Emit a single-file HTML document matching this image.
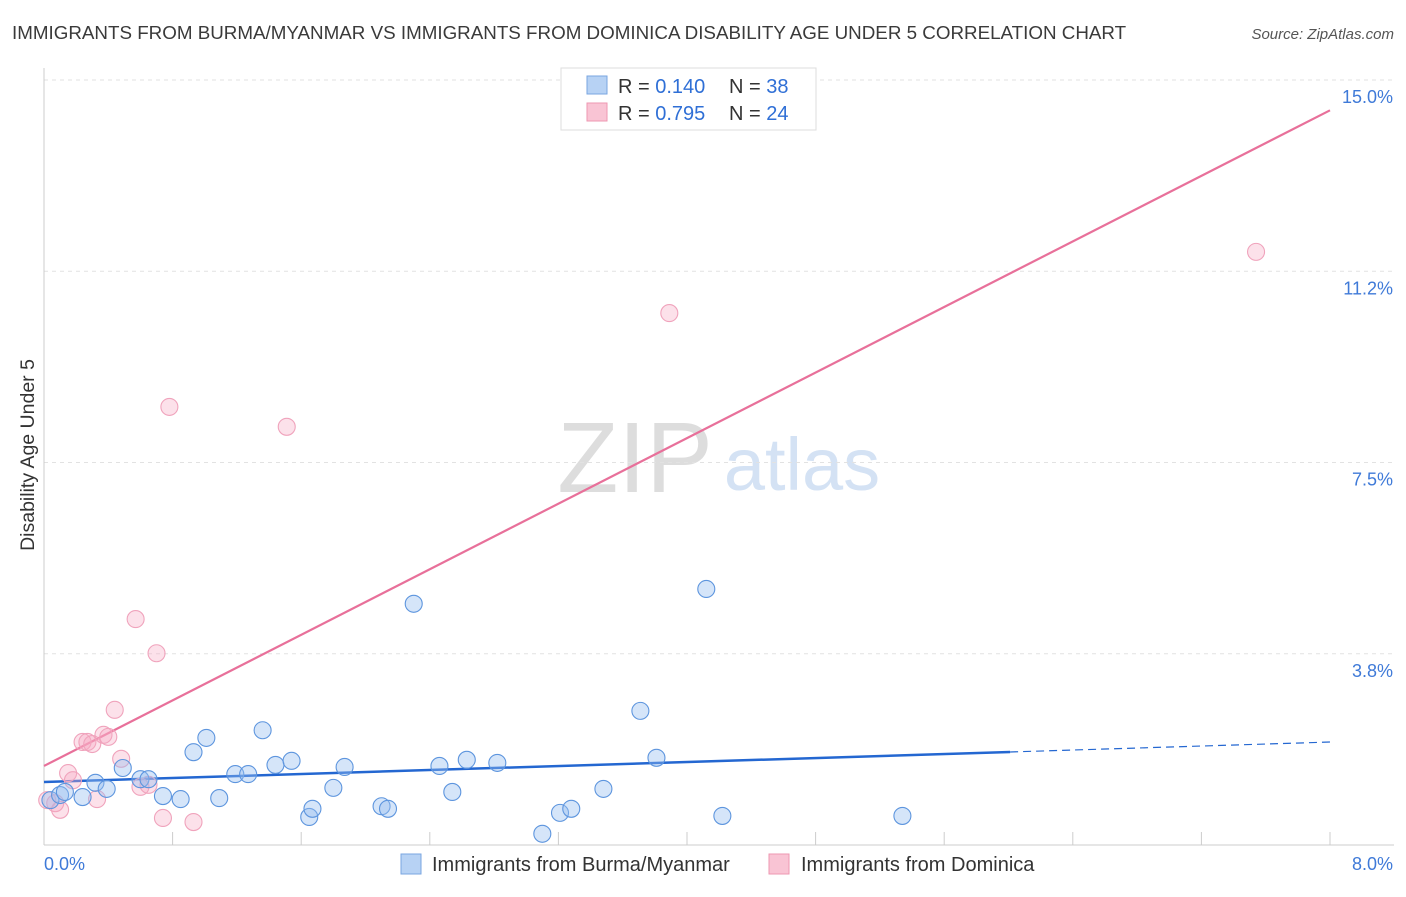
<!DOCTYPE html>
<html><head><meta charset="utf-8"><style>
body{margin:0;background:#fff;font-family:"Liberation Sans",sans-serif;}
svg text{font-family:"Liberation Sans",sans-serif;}
</style></head><body>
<svg id="chart" width="1406" height="892" xmlns="http://www.w3.org/2000/svg">
<text x="12" y="39" font-size="18.8" fill="#3a3a3a">IMMIGRANTS FROM BURMA/MYANMAR VS IMMIGRANTS FROM DOMINICA DISABILITY AGE UNDER 5 CORRELATION CHART</text>
<text x="1394" y="39" font-size="15" fill="#555" font-style="italic" text-anchor="end">Source: ZipAtlas.com</text>
<text transform="translate(34,455) rotate(-90)" font-size="19.5" fill="#333" text-anchor="middle">Disability Age Under 5</text>
<g>
<text x="635" y="492" font-size="100" fill="#ddd" font-family="Liberation Serif" text-anchor="middle">ZIP</text>
<text x="802" y="490" font-size="74" fill="#d4e2f4" text-anchor="middle">atlas</text>
</g>
<g id="grid"></g><g id="axes"></g><g id="lines"></g><g id="pts"></g>
<g>
<rect x="561" y="68" width="255" height="62" fill="#fff" stroke="#ddd"/>
<rect x="587" y="76" width="20" height="18" fill="#b7d2f4" stroke="#7aa6e0"/>
<rect x="587" y="103" width="20" height="18" fill="#f9c4d4" stroke="#ee97b2"/>
<text x="618" y="93" font-size="20" fill="#333">R = <tspan fill="#2f6fd6">0.140</tspan></text>
<text x="729" y="93" font-size="20" fill="#333">N = <tspan fill="#2f6fd6">38</tspan></text>
<text x="618" y="120" font-size="20" fill="#333">R = <tspan fill="#2f6fd6">0.795</tspan></text>
<text x="729" y="120" font-size="20" fill="#333">N = <tspan fill="#2f6fd6">24</tspan></text>
</g>
<g>
<rect x="401" y="854" width="20" height="20" fill="#b7d2f4" stroke="#7aa6e0"/>
<text x="432" y="871" font-size="20" fill="#333">Immigrants from Burma/Myanmar</text>
<rect x="769" y="854" width="20" height="20" fill="#f9c4d4" stroke="#ee97b2"/>
<text x="801" y="871" font-size="20" fill="#333">Immigrants from Dominica</text>
</g>
</svg>
<script>
const blueX=[0.04,0.10,0.13,0.24,0.32,0.39,0.49,0.60,0.65,0.74,0.85,0.93,1.01,1.09,1.19,1.27,1.36,1.44,1.54,1.65,1.67,1.80,1.87,2.10,2.14,2.30,2.46,2.54,2.63,2.82,3.10,3.21,3.28,3.48,3.71,3.81,4.12,4.22,5.34];
const blueY=[0.88,0.98,1.04,0.94,1.22,1.10,1.51,1.29,1.29,0.96,0.90,1.82,2.10,0.92,1.39,1.39,2.25,1.57,1.65,0.55,0.71,1.12,1.53,0.76,0.71,4.73,1.55,1.04,1.67,1.61,0.22,0.63,0.71,1.10,2.63,1.71,5.02,0.57,0.57];
const pinkX=[0.02,0.07,0.10,0.15,0.18,0.24,0.27,0.30,0.33,0.37,0.40,0.44,0.48,0.57,0.60,0.65,0.70,0.74,0.78,0.93,1.51,3.89,7.54];
const pinkY=[0.88,0.82,0.69,1.41,1.27,2.02,2.02,1.98,0.90,2.16,2.12,2.65,1.69,4.43,1.14,1.18,3.76,0.53,8.59,0.45,8.20,10.43,11.63];
const yTicks=[3.75,7.5,11.25,15];
const yTickLabels=["3.8%","7.5%","11.2%","15.0%"];
const blueFit=[1.235,0.098];
const pinkFit=[1.55,1.607];
const NS="http://www.w3.org/2000/svg";
const X=v=>44+v*160.75, Y=v=>845-v*51.0;
function mk(tag,attrs,parent){const e=document.createElementNS(NS,tag);for(const k in attrs)e.setAttribute(k,attrs[k]);document.getElementById(parent).appendChild(e);return e;}
yTicks.forEach((t,i)=>{
 const l=mk('line',{x1:44,x2:1394,y1:Y(t),y2:Y(t),stroke:'#e2e2e2','stroke-dasharray':'4,4'},'grid');
 
 
 const tx=mk('text',{x:1393,y:Y(t)+23,'font-size':18,fill:'#3f7ad8','text-anchor':'end'},'grid');
 tx.textContent=yTickLabels[i];
 
 
});
const ax=mk('line',{x1:44,x2:44,y1:68,y2:845,stroke:'#ccc'},'axes');


const bx=mk('line',{x1:44,x2:1394,y1:845,y2:845,stroke:'#ccc'},'axes');


for(let i=1;i<=10;i++){const t=mk('line',{x1:X(i*0.8),x2:X(i*0.8),y1:832,y2:845,stroke:'#ccc'},'axes');
 
 }
const x0=mk('text',{x:44,y:870,'font-size':18,fill:'#3f7ad8'},'axes');x0.textContent='0.0%';


const x1=mk('text',{x:1393,y:870,'font-size':18,fill:'#3f7ad8','text-anchor':'end'},'axes');x1.textContent='8.0%';


function pts(xs,ys,fill,stroke,name){xs.forEach((x,i)=>{const c=mk('circle',{cx:X(x),cy:Y(ys[i]),r:8.5,fill:fill,stroke:stroke,'stroke-width':1.1},'pts');
 
 });}
pts(pinkX,pinkY,'rgba(246,170,195,0.35)','#f0a3bc','dominica-point');
pts(blueX,blueY,'rgba(150,190,240,0.4)','#5d95de','burma-point');
const bl=mk('line',{x1:X(0),y1:Y(blueFit[0]),x2:X(6.01),y2:Y(blueFit[0]+blueFit[1]*6.01),stroke:'#2467d1','stroke-width':2.5},'lines');


const bd=mk('line',{x1:X(6.01),y1:Y(blueFit[0]+blueFit[1]*6.01),x2:X(8),y2:Y(blueFit[0]+blueFit[1]*8),stroke:'#2467d1','stroke-width':1.2,'stroke-dasharray':'8,5'},'lines');


const pl=mk('line',{x1:X(0),y1:Y(pinkFit[0]),x2:X(8),y2:Y(pinkFit[0]+pinkFit[1]*8),stroke:'#e8709a','stroke-width':2.2},'lines');


</script>
</body></html>
